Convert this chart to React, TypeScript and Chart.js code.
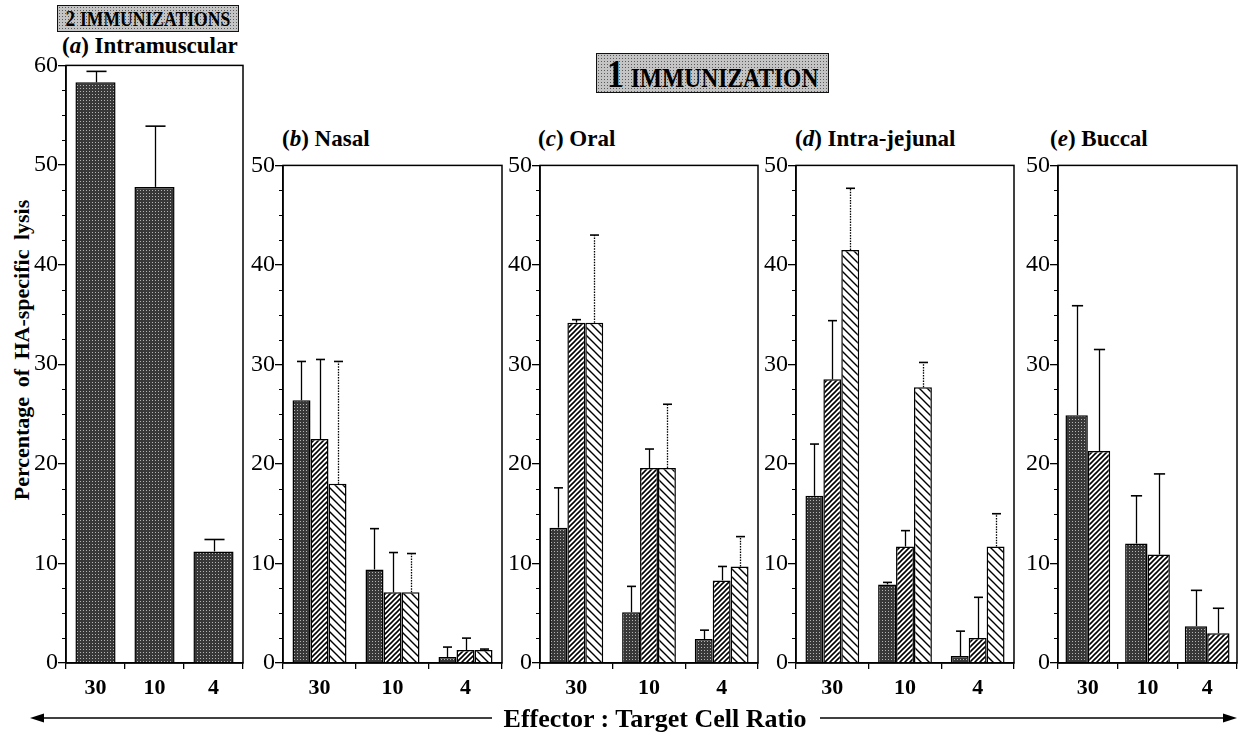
import React, { useEffect, useRef } from 'react';
import { Chart, registerables } from 'chart.js';

Chart.register(...registerables);

const FONT = "'Liberation Serif', 'Times New Roman', serif";

// Effector : Target cell ratios (x categories)
const ratios = ['30', '10', '4'];

// (a) Intramuscular — 2 immunizations
const imValues = [58.3, 47.8, 11.2];
const imErrors = [1.1, 6.1, 1.2];

// (b) Nasal
const nasalDark = [26.4, 9.4, 0.6];
const nasalDarkErr = [3.9, 4.1, 1.0];
const nasalRight = [22.5, 7.1, 1.3];
const nasalRightErr = [8.0, 4.0, 1.2];
const nasalLeft = [18.0, 7.1, 1.3];
const nasalLeftErr = [12.3, 3.9, 0.1];

// (c) Oral
const oralDark = [13.6, 5.1, 2.4];
const oralDarkErr = [4.0, 2.6, 0.9];
const oralRight = [34.2, 19.6, 8.3];
const oralRightErr = [0.3, 1.9, 1.4];
const oralLeft = [34.2, 19.6, 9.7];
const oralLeftErr = [8.8, 6.4, 3.0];

// (d) Intra-jejunal
const jejDark = [16.8, 7.9, 0.7];
const jejDarkErr = [5.2, 0.2, 2.5];
const jejRight = [28.5, 11.7, 2.5];
const jejRightErr = [5.9, 1.6, 4.1];
const jejLeft = [41.5, 27.7, 11.7];
const jejLeftErr = [6.2, 2.5, 3.3];

// (e) Buccal
const bucDark = [24.9, 12.0, 3.7];
const bucDarkErr = [11.0, 4.8, 3.6];
const bucRight = [21.3, 10.9, 3.0];
const bucRightErr = [10.2, 8.1, 2.5];

const BOTTOM = 663;

type Kind = 'dark' | 'right' | 'left';
type Series = { values: number[]; errors: number[]; kind: Kind };

function makePattern(kind: Kind): CanvasPattern | string {
  const c = document.createElement('canvas');
  let g: CanvasRenderingContext2D;
  if (kind === 'dark') {
    c.width = 3;
    c.height = 3;
    g = c.getContext('2d')!;
    g.fillStyle = '#383838';
    g.fillRect(0, 0, 3, 3);
    g.fillStyle = '#b4b4b4';
    g.fillRect(1, 1, 1, 1);
  } else if (kind === 'right') {
    const s = 5;
    c.width = s;
    c.height = s;
    g = c.getContext('2d')!;
    g.fillStyle = '#fff';
    g.fillRect(0, 0, s, s);
    g.strokeStyle = '#000';
    g.lineWidth = 1.6;
    g.beginPath();
    g.moveTo(0, s);
    g.lineTo(s, 0);
    g.moveTo(-1, 1);
    g.lineTo(1, -1);
    g.moveTo(s - 1, s + 1);
    g.lineTo(s + 1, s - 1);
    g.stroke();
  } else {
    const s = 8;
    c.width = s;
    c.height = s;
    g = c.getContext('2d')!;
    g.fillStyle = '#fff';
    g.fillRect(0, 0, s, s);
    g.strokeStyle = '#000';
    g.lineWidth = 1.4;
    g.beginPath();
    g.moveTo(0, 0);
    g.lineTo(s, s);
    g.moveTo(-1, s - 1);
    g.lineTo(1, s + 1);
    g.moveTo(s - 1, -1);
    g.lineTo(s + 1, 1);
    g.stroke();
  }
  return g.createPattern(c, 'repeat') || '#888';
}

const framePlugin = {
  id: 'frame',
  afterDraw(chart: any) {
    const { ctx, chartArea: a } = chart;
    ctx.save();
    ctx.strokeStyle = '#000';
    ctx.lineWidth = 1.5;
    ctx.strokeRect(a.left, a.top, a.right - a.left, a.bottom - a.top);
    ctx.restore();
  },
};

const minorTickPlugin = {
  id: 'minorTicks',
  afterDraw(chart: any) {
    const { ctx, chartArea: a } = chart;
    const y = chart.scales.y;
    ctx.save();
    ctx.strokeStyle = '#000';
    ctx.lineWidth = 1;
    for (let v = 0; v <= y.max + 0.001; v += 2.5) {
      if (Math.abs(v % 10) < 0.001) continue;
      const py = Math.round(y.getPixelForValue(v)) + 0.5;
      ctx.beginPath();
      ctx.moveTo(a.left - 4, py);
      ctx.lineTo(a.left, py);
      ctx.stroke();
    }
    ctx.restore();
  },
};

const errorBarPlugin = {
  id: 'errorBars',
  afterDatasetsDraw(chart: any) {
    const { ctx } = chart;
    const y = chart.scales.y;
    chart.data.datasets.forEach((ds: any, i: number) => {
      const meta = chart.getDatasetMeta(i);
      meta.data.forEach((bar: any, j: number) => {
        const v = ds.data[j];
        const e = ds.errors[j];
        const top = y.getPixelForValue(v + e);
        const x = Math.round(bar.x) + 0.5;
        const cap = bar.width * 0.25;
        ctx.save();
        ctx.strokeStyle = '#000';
        ctx.lineWidth = 1.3;
        if (ds.kind === 'left') ctx.setLineDash([1.5, 1.2]);
        ctx.beginPath();
        ctx.moveTo(x, bar.y);
        ctx.lineTo(x, top);
        ctx.stroke();
        ctx.setLineDash([]);
        ctx.lineWidth = 1.6;
        ctx.beginPath();
        ctx.moveTo(x - cap, top);
        ctx.lineTo(x + cap, top);
        ctx.stroke();
        ctx.restore();
      });
    });
  },
};

type PanelProps = {
  axisX: number;
  topY: number;
  rightX: number;
  yMax: number;
  catPct: number;
  series: Series[];
};

function Panel({ axisX, topY, rightX, yMax, catPct, series }: PanelProps) {
  const ref = useRef<HTMLCanvasElement>(null);
  const W = 50;
  const PADT = 12;
  const PADR = 2;
  const H = 48;
  const width = rightX - axisX + W + PADR;
  const height = BOTTOM - topY + PADT + H;

  useEffect(() => {
    if (!ref.current) return;
    const chart = new Chart(ref.current, {
      type: 'bar',
      data: {
        labels: ratios,
        datasets: series.map((s) => ({
          data: s.values,
          errors: s.errors,
          kind: s.kind,
          backgroundColor: makePattern(s.kind),
          borderColor: '#000',
          borderWidth: 1.5,
          barPercentage: 1,
          categoryPercentage: catPct,
        })) as any,
      },
      options: {
        responsive: false,
        maintainAspectRatio: false,
        animation: false,
        layout: { padding: { top: PADT, right: PADR, left: 0, bottom: 0 } },
        plugins: {
          legend: { display: false },
          tooltip: { enabled: false },
          title: { display: false },
        },
        scales: {
          x: {
            type: 'category',
            offset: true,
            grid: {
              offset: true,
              drawOnChartArea: false,
              tickLength: 6,
              color: '#000',
              lineWidth: 1.3,
            },
            border: { display: true, color: '#000', width: 1.5 },
            ticks: {
              font: { family: FONT, size: 22, weight: 'bold' },
              color: '#000',
              padding: 6,
              maxRotation: 0,
            },
            afterFit: (s: any) => {
              s.height = H;
            },
          },
          y: {
            min: 0,
            max: yMax,
            ticks: {
              stepSize: 10,
              font: { family: FONT, size: 24 },
              color: '#000',
              padding: 0,
            },
            grid: {
              drawOnChartArea: false,
              tickLength: 8,
              color: '#000',
              lineWidth: 1.3,
            },
            border: { display: true, color: '#000', width: 1.5 },
            afterFit: (s: any) => {
              s.width = W;
            },
          },
        },
      } as any,
      plugins: [framePlugin, minorTickPlugin, errorBarPlugin],
    });
    return () => chart.destroy();
  }, []);

  return (
    <canvas
      ref={ref}
      width={width}
      height={height}
      style={{ position: 'absolute', left: axisX - W, top: topY - PADT, width, height }}
    />
  );
}

const stipple: React.CSSProperties = {
  position: 'absolute',
  backgroundColor: '#c4c4c4',
  backgroundImage: 'radial-gradient(circle, #5a5a5a 0.7px, transparent 1px)',
  backgroundSize: '3px 3px',
  border: '1.5px solid #111',
  boxSizing: 'border-box',
  display: 'flex',
  alignItems: 'center',
  justifyContent: 'center',
  fontFamily: FONT,
  fontWeight: 'bold',
  color: '#000',
  whiteSpace: 'nowrap',
  overflow: 'visible',
};

const titleStyle: React.CSSProperties = {
  position: 'absolute',
  fontFamily: FONT,
  fontWeight: 'bold',
  fontSize: 23,
  lineHeight: '24px',
  whiteSpace: 'nowrap',
  color: '#000',
};

export default function App() {
  return (
    <div
      style={{
        position: 'absolute',
        left: 0,
        top: 0,
        width: 1239,
        height: 732,
        overflow: 'hidden',
        background: '#fff',
      }}
    >
      <div style={{ ...stipple, left: 57, top: 5, width: 182, height: 27 }}>
        <span
          style={{
            display: 'inline-flex',
            alignItems: 'baseline',
            transform: 'scaleX(0.8)',
            transformOrigin: 'center',
            flexShrink: 0,
          }}
        >
          <span style={{ fontSize: 24, marginRight: 6 }}>2</span>
          <span style={{ fontSize: 22 }}>IMMUNIZATIONS</span>
        </span>
      </div>
      <div style={{ ...stipple, left: 596, top: 53, width: 233, height: 40 }}>
        <span
          style={{
            display: 'inline-flex',
            alignItems: 'baseline',
            transform: 'scaleX(0.84)',
            transformOrigin: 'center',
            flexShrink: 0,
          }}
        >
          <span style={{ fontSize: 40, marginRight: 8 }}>1</span>
          <span style={{ fontSize: 28 }}>IMMUNIZATION</span>
        </span>
      </div>

      <div style={{ ...titleStyle, left: 62, top: 34 }}>
        (<i>a</i>) Intramuscular
      </div>
      <div style={{ ...titleStyle, left: 282, top: 127 }}>
        (<i>b</i>) Nasal
      </div>
      <div style={{ ...titleStyle, left: 538, top: 127 }}>
        (<i>c</i>) Oral
      </div>
      <div style={{ ...titleStyle, left: 795, top: 127 }}>
        (<i>d</i>) Intra-jejunal
      </div>
      <div style={{ ...titleStyle, left: 1050, top: 127 }}>
        (<i>e</i>) Buccal
      </div>

      <div
        style={{
          ...titleStyle,
          fontSize: 22,
          wordSpacing: 4,
          left: 22,
          top: 350,
          transform: 'translate(-50%, -50%) rotate(-90deg)',
        }}
      >
        Percentage of HA-specific lysis
      </div>

      <Panel
        axisX={66}
        topY={63}
        rightX={243}
        yMax={60}
        catPct={0.68}
        series={[{ values: imValues, errors: imErrors, kind: 'dark' }]}
      />
      <Panel
        axisX={283}
        topY={163}
        rightX={502}
        yMax={50}
        catPct={0.74}
        series={[
          { values: nasalDark, errors: nasalDarkErr, kind: 'dark' },
          { values: nasalRight, errors: nasalRightErr, kind: 'right' },
          { values: nasalLeft, errors: nasalLeftErr, kind: 'left' },
        ]}
      />
      <Panel
        axisX={540}
        topY={163}
        rightX={758}
        yMax={50}
        catPct={0.74}
        series={[
          { values: oralDark, errors: oralDarkErr, kind: 'dark' },
          { values: oralRight, errors: oralRightErr, kind: 'right' },
          { values: oralLeft, errors: oralLeftErr, kind: 'left' },
        ]}
      />
      <Panel
        axisX={796}
        topY={163}
        rightX={1014}
        yMax={50}
        catPct={0.74}
        series={[
          { values: jejDark, errors: jejDarkErr, kind: 'dark' },
          { values: jejRight, errors: jejRightErr, kind: 'right' },
          { values: jejLeft, errors: jejLeftErr, kind: 'left' },
        ]}
      />
      <Panel
        axisX={1058}
        topY={163}
        rightX={1237}
        yMax={50}
        catPct={0.75}
        series={[
          { values: bucDark, errors: bucDarkErr, kind: 'dark' },
          { values: bucRight, errors: bucRightErr, kind: 'right' },
        ]}
      />

      <svg
        width={1239}
        height={732}
        style={{ position: 'absolute', left: 0, top: 0, pointerEvents: 'none' }}
      >
        <line x1={40} y1={718} x2={492} y2={718} stroke="#000" strokeWidth={1.5} />
        <polygon points="30,718 44,713.5 44,722.5" fill="#000" />
        <line x1={820} y1={718} x2={1226} y2={718} stroke="#000" strokeWidth={1.5} />
        <polygon points="1237,718 1223,713.5 1223,722.5" fill="#000" />
      </svg>
      <div
        style={{
          ...titleStyle,
          fontSize: 26,
          lineHeight: '28px',
          left: 655,
          top: 719,
          transform: 'translate(-50%, -50%)',
        }}
      >
        Effector : Target Cell Ratio
      </div>
    </div>
  );
}
